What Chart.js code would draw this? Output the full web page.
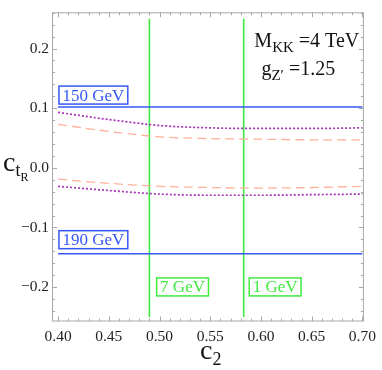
<!DOCTYPE html>
<html>
<head>
<meta charset="utf-8">
<script src="https://cdn.jsdelivr.net/npm/chart.js@4.4.1/dist/chart.umd.min.js"></script>
<style>
  html, body { margin: 0; padding: 0; background: #fff; }
  #wrap { width: 382px; height: 370px; }
</style>
</head>
<body>
<div id="wrap"><canvas id="plot"></canvas></div>
<script>
// ---- data ----
const c2Grid      = [0.40, 0.45, 0.50, 0.55, 0.60, 0.65, 0.70];
const purpleUpper = [0.093, 0.081, 0.071, 0.067, 0.066, 0.066, 0.067];
const salmonUpper = [0.073, 0.061, 0.052, 0.049, 0.048, 0.047, 0.047];
const salmonLower = [-0.019, -0.026, -0.031, -0.033, -0.034, -0.033, -0.031];
const purpleLower = [-0.031, -0.038, -0.044, -0.046, -0.046, -0.045, -0.044];

const massLabels  = ['150 GeV', '190 GeV'];
const massLevels  = [0.102, -0.144];
const boundLabels = ['7 GeV', '1 GeV'];
const boundC2     = [0.490, 0.583];

const c2Span  = [0.40, 0.70];
const ctrSpan = [-0.25, 0.25];
const xTicks  = [0.40, 0.45, 0.50, 0.55, 0.60, 0.65, 0.70];
const yTicks  = [-0.2, -0.1, 0.0, 0.1, 0.2];

// ---- styles ----
const BLUE = '#3558f5', GREEN = '#3fea3f', PURPLE = '#a535b5', SALMON = '#ffb19c';
const SERIF = '"Liberation Serif", "DejaVu Serif", serif';

const curve = (ys) => ys.map((y, i) => ({ x: c2Grid[i], y }));
const hline = (y) => c2Span.map(x => ({ x, y }));
const vline = (x) => ctrSpan.map(y => ({ x, y }));

const datasets = [
  { data: curve(salmonUpper), borderColor: SALMON, borderWidth: 1.3, borderDash: [9, 5], cubicInterpolationMode: 'monotone' },
  { data: curve(salmonLower), borderColor: SALMON, borderWidth: 1.3, borderDash: [9, 5], cubicInterpolationMode: 'monotone' },
  { data: curve(purpleUpper), borderColor: PURPLE, borderWidth: 1.7, borderDash: [2, 2], cubicInterpolationMode: 'monotone' },
  { data: curve(purpleLower), borderColor: PURPLE, borderWidth: 1.7, borderDash: [2, 2], cubicInterpolationMode: 'monotone' },
  ...massLevels.map(v => ({ data: hline(v), borderColor: BLUE, borderWidth: 1.5 })),
  ...boundC2.map(v => ({ data: vline(v), borderColor: GREEN, borderWidth: 1.6 })),
];

// label anchors (data units)
const massLabelAt  = [{ x: 0.4348, y: 0.122 }, { x: 0.4348, y: -0.1205 }];
const boundLabelAt = [{ x: 0.5227, y: -0.1997 }, { x: 0.614, y: -0.1997 }];

function richText(ctx, x, y, parts) {
  let cx = x;
  parts.forEach(p => {
    ctx.font = (p.bold ? 'bold ' : '') + p.size + 'px ' + SERIF;
    ctx.fillText(p.t, cx, y + (p.dy || 0));
    cx += ctx.measureText(p.t).width;
  });
}

function boxedLabel(ctx, px, py, text, color) {
  ctx.font = '17px ' + SERIF;
  const w = ctx.measureText(text).width + 7, h = 18;
  ctx.fillStyle = '#fff';
  ctx.fillRect(px - w / 2, py - h / 2, w, h);
  ctx.strokeStyle = color; ctx.lineWidth = 1.5;
  ctx.strokeRect(px - w / 2, py - h / 2, w, h);
  ctx.fillStyle = color;
  ctx.textAlign = 'center'; ctx.textBaseline = 'middle';
  ctx.fillText(text, px, py + 1);
}

const framePlugin = {
  id: 'frame',
  afterDatasetsDraw(chart) {
    const { ctx, chartArea: a, scales: { x, y } } = chart;
    ctx.save();
    ctx.strokeStyle = '#a8a8a8'; ctx.lineWidth = 1;
    ctx.strokeRect(a.left + 0.5, a.top + 0.5, a.right - a.left - 1, a.bottom - a.top - 1);
    ctx.beginPath();
    // x ticks (bottom & top)
    for (let i = 39; i <= 71; i++) {
      const v = i / 100;
      if (v < x.min || v > x.max) continue;
      const px = Math.round(x.getPixelForValue(v)) + 0.5;
      const len = i % 5 === 0 ? 5 : 3;
      ctx.moveTo(px, a.bottom); ctx.lineTo(px, a.bottom - len);
      ctx.moveTo(px, a.top); ctx.lineTo(px, a.top + len);
    }
    // y ticks (left & right)
    for (let i = -13; i <= 13; i++) {
      const v = i / 50;
      if (v < y.min || v > y.max) continue;
      const py = Math.round(y.getPixelForValue(v)) + 0.5;
      const len = i % 5 === 0 ? 5 : 3;
      ctx.moveTo(a.left, py); ctx.lineTo(a.left + len, py);
      ctx.moveTo(a.right, py); ctx.lineTo(a.right - len, py);
    }
    ctx.stroke();

    // boxed line labels
    massLabels.forEach((t, i) => boxedLabel(ctx, x.getPixelForValue(massLabelAt[i].x), y.getPixelForValue(massLabelAt[i].y), t, BLUE));
    boundLabels.forEach((t, i) => boxedLabel(ctx, x.getPixelForValue(boundLabelAt[i].x), y.getPixelForValue(boundLabelAt[i].y), t, GREEN));

    // parameter text
    ctx.fillStyle = '#111'; ctx.textAlign = 'left'; ctx.textBaseline = 'alphabetic';
    richText(ctx, x.getPixelForValue(0.5935), y.getPixelForValue(0.2027), [
      { t: 'M', size: 20 }, { t: 'KK', size: 15, dy: 5 }, { t: ' =4 TeV', size: 20 }
    ]);
    richText(ctx, x.getPixelForValue(0.6005), y.getPixelForValue(0.156), [
      { t: 'g', size: 20 }, { t: 'Z\u2032', size: 15, dy: 5 }, { t: ' =1.25', size: 20 }
    ]);

    // axis titles
    const midX = (a.left + a.right) / 2;
    richText(ctx, midX - 8, a.bottom + 37, [{ t: 'c', size: 28 }, { t: '2', size: 18, dy: 6 }]);
    richText(ctx, 3, y.getPixelForValue(0) + 3, [
      { t: 'c', size: 28 }, { t: 't', size: 18, dy: 5 }, { t: 'R', size: 12, dy: 10 }
    ]);
    ctx.restore();
  }
};

new Chart(document.getElementById('plot'), {
  type: 'line',
  data: { datasets: datasets.map(d => ({ pointRadius: 0, fill: false, ...d })) },
  options: {
    responsive: true, maintainAspectRatio: false, animation: false,
    layout: { padding: { top: 0, right: 11, left: 0, bottom: 0 } },
    plugins: { legend: { display: false }, tooltip: { enabled: false } },
    scales: {
      x: {
        type: 'linear', min: 0.394, max: 0.7015,
        afterBuildTicks: s => { s.ticks = xTicks.map(value => ({ value })); },
        afterFit: s => { s.height = 48.5; },
        grid: { display: false, drawTicks: false }, border: { display: false },
        ticks: { color: '#222', padding: 6, maxRotation: 0, font: { family: SERIF, size: 15.5 },
                 callback: v => v.toFixed(2) }
      },
      y: {
        type: 'linear', min: -0.2577, max: 0.2608,
        afterBuildTicks: s => { s.ticks = yTicks.map(value => ({ value })); },
        afterFit: s => { s.width = 52; },
        grid: { display: false, drawTicks: false }, border: { display: false },
        ticks: { color: '#222', padding: 3, font: { family: SERIF, size: 15.5 },
                 callback: v => (v < -1e-9 ? '\u2212' : '') + Math.abs(v).toFixed(1) }
      }
    }
  },
  plugins: [framePlugin]
});
</script>
</body>
</html>
